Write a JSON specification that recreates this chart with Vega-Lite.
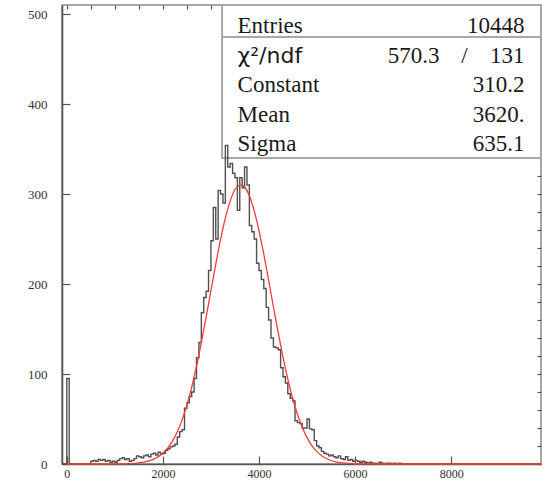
{
  "$schema": "https://vega.github.io/schema/vega-lite/v6.json",
  "width": 479,
  "height": 459,
  "autosize": {"type": "none"},
  "padding": {"left": 62, "top": 5, "right": 2, "bottom": 17},
  "background": "white",
  "config": {
    "view": {"stroke": "#8a8a8a", "strokeWidth": 1.5},
    "axis": {"grid": false, "domainColor": "#555", "domainWidth": 1.6, "tickColor": "#555", "tickWidth": 1.2, "labelFont": "Liberation Serif", "labelFontSize": 13, "labelColor": "#333", "title": null}
  },
  "datasets": {
    "hist": [
      {"x": -100, "n": 0}, {"x": 0, "n": 95}, {"x": 50, "n": 0},
      {"x": 500, "n": 3}, {"x": 550, "n": 4}, {"x": 600, "n": 3}, {"x": 650, "n": 5}, {"x": 700, "n": 4}, {"x": 750, "n": 5},
      {"x": 800, "n": 3}, {"x": 850, "n": 4}, {"x": 900, "n": 2}, {"x": 950, "n": 3}, {"x": 1000, "n": 2}, {"x": 1050, "n": 4},
      {"x": 1100, "n": 6}, {"x": 1150, "n": 7}, {"x": 1200, "n": 5}, {"x": 1250, "n": 6}, {"x": 1300, "n": 3}, {"x": 1350, "n": 4},
      {"x": 1400, "n": 6}, {"x": 1450, "n": 9}, {"x": 1500, "n": 8}, {"x": 1550, "n": 7}, {"x": 1600, "n": 9}, {"x": 1650, "n": 10},
      {"x": 1700, "n": 8}, {"x": 1750, "n": 11}, {"x": 1800, "n": 12}, {"x": 1850, "n": 10}, {"x": 1900, "n": 13}, {"x": 1950, "n": 11},
      {"x": 2000, "n": 12}, {"x": 2050, "n": 15}, {"x": 2100, "n": 17}, {"x": 2150, "n": 19}, {"x": 2200, "n": 20}, {"x": 2250, "n": 22},
      {"x": 2300, "n": 30}, {"x": 2350, "n": 36}, {"x": 2400, "n": 38}, {"x": 2450, "n": 62}, {"x": 2500, "n": 68}, {"x": 2550, "n": 75},
      {"x": 2600, "n": 80}, {"x": 2650, "n": 95}, {"x": 2700, "n": 118}, {"x": 2750, "n": 135}, {"x": 2800, "n": 168}, {"x": 2850, "n": 185},
      {"x": 2900, "n": 192}, {"x": 2950, "n": 215}, {"x": 3000, "n": 248}, {"x": 3050, "n": 285}, {"x": 3100, "n": 250}, {"x": 3150, "n": 304},
      {"x": 3200, "n": 300}, {"x": 3250, "n": 290}, {"x": 3300, "n": 354}, {"x": 3350, "n": 330}, {"x": 3400, "n": 334}, {"x": 3450, "n": 323},
      {"x": 3500, "n": 318}, {"x": 3550, "n": 282}, {"x": 3600, "n": 318}, {"x": 3650, "n": 307}, {"x": 3700, "n": 330}, {"x": 3750, "n": 310},
      {"x": 3800, "n": 265}, {"x": 3850, "n": 258}, {"x": 3900, "n": 250}, {"x": 3950, "n": 223}, {"x": 4000, "n": 215}, {"x": 4050, "n": 205},
      {"x": 4100, "n": 195}, {"x": 4150, "n": 174}, {"x": 4200, "n": 160}, {"x": 4250, "n": 140}, {"x": 4300, "n": 130}, {"x": 4350, "n": 129},
      {"x": 4400, "n": 127}, {"x": 4450, "n": 107}, {"x": 4500, "n": 97}, {"x": 4550, "n": 90}, {"x": 4600, "n": 78}, {"x": 4650, "n": 73},
      {"x": 4700, "n": 70}, {"x": 4750, "n": 48}, {"x": 4800, "n": 46}, {"x": 4850, "n": 45}, {"x": 4900, "n": 40}, {"x": 4950, "n": 40},
      {"x": 5000, "n": 50}, {"x": 5050, "n": 39}, {"x": 5100, "n": 38}, {"x": 5150, "n": 26}, {"x": 5200, "n": 20}, {"x": 5250, "n": 18},
      {"x": 5300, "n": 14}, {"x": 5350, "n": 12}, {"x": 5400, "n": 11}, {"x": 5450, "n": 9}, {"x": 5500, "n": 10}, {"x": 5550, "n": 8},
      {"x": 5600, "n": 7}, {"x": 5650, "n": 9}, {"x": 5700, "n": 6}, {"x": 5750, "n": 5}, {"x": 5800, "n": 8}, {"x": 5850, "n": 4},
      {"x": 5900, "n": 5}, {"x": 5950, "n": 3}, {"x": 6000, "n": 4}, {"x": 6050, "n": 3}, {"x": 6100, "n": 2}, {"x": 6150, "n": 3},
      {"x": 6200, "n": 2}, {"x": 6250, "n": 1}, {"x": 6300, "n": 2}, {"x": 6350, "n": 1}, {"x": 6400, "n": 1}, {"x": 6450, "n": 0},
      {"x": 6500, "n": 2}, {"x": 6550, "n": 1}, {"x": 6600, "n": 0}, {"x": 6650, "n": 1}, {"x": 6700, "n": 1}, {"x": 6750, "n": 0},
      {"x": 6800, "n": 1}, {"x": 6850, "n": 0}, {"x": 6900, "n": 1}, {"x": 6950, "n": 0}, {"x": 9870, "n": 0}
    ],
    "fit": [
      {"x": 0, "f": 0}, {"x": 500, "f": 0}, {"x": 800, "f": 0.01}, {"x": 1000, "f": 0.06}, {"x": 1200, "f": 0.22}, {"x": 1400, "f": 0.69},
      {"x": 1600, "f": 1.97}, {"x": 1800, "f": 5.11}, {"x": 2000, "f": 11.99}, {"x": 2100, "f": 17.69}, {"x": 2200, "f": 25.47},
      {"x": 2300, "f": 35.77}, {"x": 2400, "f": 49.02}, {"x": 2500, "f": 65.52}, {"x": 2600, "f": 85.42}, {"x": 2700, "f": 108.6},
      {"x": 2800, "f": 134.8}, {"x": 2900, "f": 163.1}, {"x": 3000, "f": 192.6}, {"x": 3100, "f": 221.9}, {"x": 3200, "f": 249.3},
      {"x": 3300, "f": 273.2}, {"x": 3400, "f": 292.1}, {"x": 3500, "f": 304.7}, {"x": 3620, "f": 310.2}, {"x": 3700, "f": 307.8},
      {"x": 3800, "f": 298.0}, {"x": 3900, "f": 281.5}, {"x": 4000, "f": 259.4}, {"x": 4100, "f": 233.1}, {"x": 4200, "f": 204.4},
      {"x": 4300, "f": 174.9}, {"x": 4400, "f": 145.9}, {"x": 4500, "f": 118.8}, {"x": 4600, "f": 94.3}, {"x": 4700, "f": 73.06},
      {"x": 4800, "f": 55.21}, {"x": 4900, "f": 40.7}, {"x": 5000, "f": 29.26}, {"x": 5100, "f": 20.53}, {"x": 5200, "f": 14.05},
      {"x": 5300, "f": 9.38}, {"x": 5400, "f": 6.11}, {"x": 5500, "f": 3.88}, {"x": 5600, "f": 2.4}, {"x": 5800, "f": 0.86},
      {"x": 6000, "f": 0.28}, {"x": 6200, "f": 0.08}, {"x": 6500, "f": 0.01}, {"x": 7000, "f": 0}, {"x": 9870, "f": 0}
    ],
    "labels": [
      {"label": "Entries", "row": 0}, {"label": "Constant", "row": 2}, {"label": "Mean", "row": 3}, {"label": "Sigma", "row": 4}
    ],
    "values": [
      {"value": "10448", "row": 0}, {"value": "131", "row": 1}, {"value": "310.2", "row": 2}, {"value": "3620.", "row": 3}, {"value": "635.1", "row": 4}
    ],
    "chi": [{"label": "χ²/ndf", "chi2": "570.3", "slash": "/", "row": 1}]
  },
  "resolve": {"scale": {"y": "independent"}, "axis": {"x": "independent", "y": "independent"}},
  "layer": [
    {
      "data": {"values": [{}]},
      "mark": {"type": "rect", "fill": "white", "stroke": "#a8a8a8", "strokeWidth": 2},
      "encoding": {
        "x": {"datum": 3232, "type": "quantitative", "scale": {"domain": [-100, 9870], "zero": false, "nice": false}, "axis": null},
        "x2": {"datum": 9870},
        "y": {"datum": -0.9459, "type": "quantitative", "scale": {"domain": [-0.9459, 14.561], "reverse": true, "zero": false, "nice": false}, "axis": null},
        "y2": {"datum": 4.223}
      }
    },
    {
      "data": {"values": [{}]},
      "mark": {"type": "rule", "stroke": "#a8a8a8", "strokeWidth": 2},
      "encoding": {
        "x": {"datum": 3232, "type": "quantitative", "scale": {"domain": [-100, 9870], "zero": false, "nice": false}, "axis": null},
        "x2": {"datum": 9870},
        "y": {"datum": 0.135, "type": "quantitative", "scale": {"domain": [-0.9459, 14.561], "reverse": true, "zero": false, "nice": false}, "axis": null}
      }
    },
    {
      "data": {"name": "hist"},
      "mark": {"type": "line", "interpolate": "step-after", "stroke": "#505050", "strokeWidth": 1.4},
      "encoding": {
        "x": {"field": "x", "type": "quantitative", "scale": {"domain": [-100, 9870], "zero": false, "nice": false},
              "axis": {"values": [0, 2000, 4000, 6000, 8000], "format": "d", "tickSize": -8, "labelPadding": 12, "labelFontSize": 12, "domain": true}},
        "y": {"field": "n", "type": "quantitative", "scale": {"domain": [0, 510], "zero": false, "nice": false},
              "axis": {"values": [0, 100, 200, 300, 400, 500], "format": "d", "tickSize": -8, "labelPadding": 23, "domain": true}}
      }
    },
    {
      "data": {"name": "fit"},
      "mark": {"type": "line", "interpolate": "monotone", "stroke": "#f03c3c", "strokeWidth": 1.3},
      "encoding": {
        "x": {"field": "x", "type": "quantitative", "scale": {"domain": [-100, 9870], "zero": false, "nice": false},
              "axis": {"values": [0, 500, 1000, 1500, 2000, 2500, 3000, 3500, 4000, 4500, 5000, 5500, 6000, 6500, 7000, 7500, 8000, 8500, 9000, 9500], "tickSize": -4, "labels": false, "domain": false}},
        "y": {"field": "f", "type": "quantitative", "scale": {"domain": [0, 510], "zero": false, "nice": false},
              "axis": {"values": [0, 20, 40, 60, 80, 100, 120, 140, 160, 180, 200, 220, 240, 260, 280, 300, 320, 340, 360, 380, 400, 420, 440, 460, 480, 500], "tickSize": -4, "labels": false, "domain": false}}
      }
    },
    {
      "data": {"name": "labels"},
      "mark": {"type": "text", "align": "left", "baseline": "alphabetic", "font": "Liberation Serif", "fontSize": 23, "color": "#1a1a1a"},
      "encoding": {
        "x": {"datum": 3554, "type": "quantitative", "scale": {"domain": [-100, 9870], "zero": false, "nice": false}, "axis": null},
        "y": {"field": "row", "type": "quantitative", "scale": {"domain": [-0.9459, 14.561], "reverse": true, "zero": false, "nice": false}, "axis": null},
        "text": {"field": "label"}
      }
    },
    {
      "data": {"name": "values"},
      "mark": {"type": "text", "align": "right", "baseline": "alphabetic", "font": "Liberation Serif", "fontSize": 23, "color": "#1a1a1a"},
      "encoding": {
        "x": {"datum": 9527, "type": "quantitative", "scale": {"domain": [-100, 9870], "zero": false, "nice": false}, "axis": null},
        "y": {"field": "row", "type": "quantitative", "scale": {"domain": [-0.9459, 14.561], "reverse": true, "zero": false, "nice": false}, "axis": null},
        "text": {"field": "value"}
      }
    },
    {
      "data": {"name": "chi"},
      "mark": {"type": "text", "align": "left", "baseline": "alphabetic", "font": "DejaVu Sans", "fontSize": 22, "color": "#1a1a1a"},
      "encoding": {
        "x": {"datum": 3554, "type": "quantitative", "scale": {"domain": [-100, 9870], "zero": false, "nice": false}, "axis": null},
        "y": {"field": "row", "type": "quantitative", "scale": {"domain": [-0.9459, 14.561], "reverse": true, "zero": false, "nice": false}, "axis": null},
        "text": {"field": "label"}
      }
    },
    {
      "data": {"name": "chi"},
      "mark": {"type": "text", "align": "right", "baseline": "alphabetic", "font": "Liberation Serif", "fontSize": 23, "color": "#1a1a1a"},
      "encoding": {
        "x": {"datum": 7759, "type": "quantitative", "scale": {"domain": [-100, 9870], "zero": false, "nice": false}, "axis": null},
        "y": {"field": "row", "type": "quantitative", "scale": {"domain": [-0.9459, 14.561], "reverse": true, "zero": false, "nice": false}, "axis": null},
        "text": {"field": "chi2"}
      }
    },
    {
      "data": {"name": "chi"},
      "mark": {"type": "text", "align": "center", "baseline": "alphabetic", "font": "Liberation Serif", "fontSize": 23, "color": "#1a1a1a"},
      "encoding": {
        "x": {"datum": 8279, "type": "quantitative", "scale": {"domain": [-100, 9870], "zero": false, "nice": false}, "axis": null},
        "y": {"field": "row", "type": "quantitative", "scale": {"domain": [-0.9459, 14.561], "reverse": true, "zero": false, "nice": false}, "axis": null},
        "text": {"field": "slash"}
      }
    }
  ]
}
